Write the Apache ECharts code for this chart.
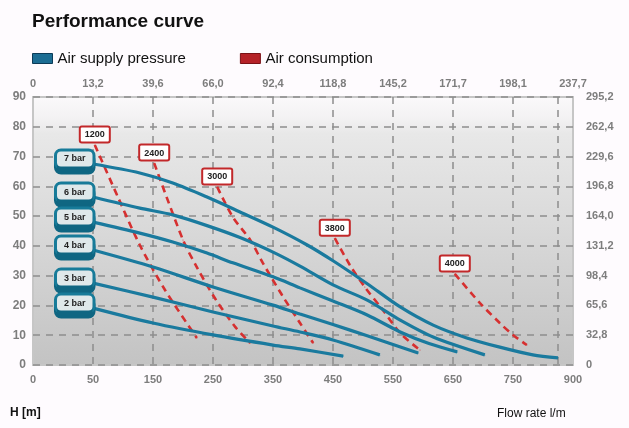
<!DOCTYPE html>
<html><head><meta charset="utf-8">
<script src="https://cdn.jsdelivr.net/npm/echarts@6/dist/echarts.min.js"></script>
<style>html,body{margin:0;padding:0;background:#fefbfe}#c{width:629px;height:428px}</style>
</head><body><div id="c"></div>
<script>
// ---- tick labels ----
const xLabelPos = [-50, 50, 150, 250, 350, 450, 550, 650, 750, 850];
const bottomLabels = ["0", "50", "150", "250", "350", "450", "550", "650", "750", "900"];
const topLabels = ["0", "13,2", "39,6", "66,0", "92,4", "118,8", "145,2", "171,7", "198,1", "237,7"];
const xGridPos = [50, 150, 250, 350, 450, 550, 650, 750, 825];
const rightLabels = ["0", "32,8", "65,6", "98,4", "131,2", "164,0", "196,8", "229,6", "262,4", "295,2"];

// ---- air supply pressure curves (flow l/m, head m) ----
const pressureNames = ["7 bar", "6 bar", "5 bar", "4 bar", "3 bar", "2 bar"];
const bar7Flow = [50, 128, 183, 240, 295, 350, 407, 450, 507, 562, 617, 673, 728, 783, 825];
const bar7H    = [67.5, 64.5, 61.1, 56.4, 51.4, 46.3, 40.3, 35.0, 27.3, 19.5, 13.4, 9.1, 6.0, 3.4, 2.4];
const bar6Flow = [50, 128, 183, 240, 295, 350, 395, 450, 507, 562, 617, 703];
const bar6H    = [56.4, 52.7, 50.4, 46.8, 42.8, 37.9, 33.2, 26.9, 21.8, 15.1, 9.4, 3.4];
const bar5Flow = [50, 128, 183, 240, 283, 350, 395, 450, 507, 562, 610, 657];
const bar5H    = [48.0, 44.3, 41.3, 37.6, 34.3, 29.6, 25.9, 21.5, 16.8, 11.1, 7.2, 4.4];
const bar4Flow = [50, 150, 250, 350, 395, 450, 507, 592];
const bar4H    = [38.6, 32.9, 26.2, 20.1, 17.1, 13.6, 9.8, 4.0];
const bar3Flow = [50, 150, 250, 350, 395, 450, 528];
const bar3H    = [27.5, 22.8, 17.8, 13.1, 11.1, 8.4, 3.4];
const bar2Flow = [50, 150, 250, 350, 395, 467];
const bar2H    = [19.1, 14.1, 10.1, 6.7, 5.4, 3.0];

// ---- air consumption lines ----
const consNames = ["1200", "2400", "3000", "3800", "4000"];
const c1200Flow = [53, 90, 128, 170, 223];
const c1200H    = [73.9, 57.1, 40.3, 25.2, 9.1];
const c2400Flow = [152, 200, 223, 253, 287, 312];
const c2400H    = [67.8, 42.0, 32.9, 22.5, 12.8, 7.4];
const c3000Flow = [257, 283, 312, 333, 365, 395, 417];
const c3000H    = [59.8, 49.7, 42.0, 34.3, 23.5, 14.1, 7.4];
const c3800Flow = [453, 478, 503, 533, 562, 595];
const c3800H    = [42.6, 33.6, 26.2, 18.5, 10.7, 5.0];
const c4000Flow = [653, 695, 728, 750, 773];
const c4000H    = [30.6, 20.8, 14.1, 10.1, 6.7];

const pressureSets = [[bar7Flow, bar7H], [bar6Flow, bar6H], [bar5Flow, bar5H], [bar4Flow, bar4H], [bar3Flow, bar3H], [bar2Flow, bar2H]];
const consSets = [[c1200Flow, c1200H], [c2400Flow, c2400H], [c3000Flow, c3000H], [c3800Flow, c3800H], [c4000Flow, c4000H]];

const FONT = 'Liberation Sans, Arial, sans-serif';
const BLUE = '#1a7a9e';
const RED = '#d63030';

function pts(xs, ys) {
  return xs.map((x, i) => i === 0 ? {value: [x, ys[i]], label: {show: true}} : [x, ys[i]]);
}

const series = [];
pressureSets.forEach((s, k) => {
  series.push({
    type: 'line', name: 'Air supply pressure', smooth: 0.3,
    symbol: 'circle', symbolSize: 1, showSymbol: true,
    itemStyle: {color: BLUE}, lineStyle: {color: BLUE, width: 3.2},
    z: 3,
    label: {
      show: false, formatter: pressureNames[k], position: 'left', distance: 0, offset: [0, -5],
      color: '#222', fontSize: 9, fontWeight: 'bold', fontFamily: FONT,
      backgroundColor: '#dfe8ea', borderColor: '#177b99', borderWidth: 3, borderRadius: 4,
      padding: [3, 7, 3, 7], shadowColor: '#0f6682', shadowOffsetY: 5, shadowBlur: 0
    },
    data: pts(s[0], s[1])
  });
});
consSets.forEach((s, k) => {
  series.push({
    type: 'line', name: 'Air consumption', smooth: 0.3,
    symbol: 'circle', symbolSize: 1, showSymbol: true,
    itemStyle: {color: RED}, lineStyle: {color: RED, width: 2.6, type: [7, 5]},
    z: 2,
    label: {
      show: false, formatter: consNames[k], position: 'top', distance: 3,
      color: '#222', fontSize: 9, fontWeight: 'bold', fontFamily: FONT,
      backgroundColor: '#ffffff', borderColor: '#c2282a', borderWidth: 2, borderRadius: 1,
      padding: [3, 4, 2, 4]
    },
    data: pts(s[0], s[1])
  });
});

const gridLine = {show: true, lineStyle: {color: '#8d8d8d', width: 1.5, type: [7, 6]}};
const axLabel = {color: '#7d7d7d', fontSize: 11, fontWeight: 'bold', fontFamily: FONT};

const chart = echarts.init(document.getElementById('c'));
chart.setOption({
  animation: false,
  backgroundColor: '#fefbfe',
  title: {text: 'Performance curve', left: 27, top: 7,
    textStyle: {fontSize: 19, fontWeight: 'bold', color: '#111', fontFamily: FONT}},
  legend: {
    left: 27, top: 46, itemWidth: 20, itemHeight: 10, itemGap: 54,
    textStyle: {fontSize: 15, color: '#111', fontFamily: FONT},
    data: [
      {name: 'Air supply pressure', icon: 'rect', itemStyle: {color: '#1c6d93', borderColor: '#0c3b57', borderWidth: 1}},
      {name: 'Air consumption', icon: 'rect', itemStyle: {color: '#b52228', borderColor: '#7a1216', borderWidth: 1}}
    ]
  },
  grid: {
    left: 33, right: 56, top: 97, bottom: 63, show: true,
    backgroundColor: new echarts.graphic.LinearGradient(0, 0, 0, 1, [
      {offset: 0, color: '#fbf9fb'}, {offset: 0.08, color: '#f3f2f3'},
      {offset: 0.14, color: '#e8e8e8'}, {offset: 1, color: '#c3c3c3'}
    ]),
    borderColor: '#c6c6c6', borderWidth: 2
  },
  xAxis: [
    {
      type: 'value', min: -50, max: 850, position: 'bottom',
      axisLine: {show: false}, axisTick: {show: false, customValues: xGridPos},
      axisLabel: Object.assign({}, axLabel, {customValues: xLabelPos, margin: 9,
        formatter: v => bottomLabels[xLabelPos.findIndex(p => Math.abs(p - v) < 1e-6)]}),
      splitLine: gridLine
    },
    {
      type: 'value', min: -50, max: 850, position: 'top',
      axisLine: {show: false}, axisTick: {show: false},
      axisLabel: Object.assign({}, axLabel, {customValues: xLabelPos, margin: 8,
        formatter: v => topLabels[xLabelPos.findIndex(p => Math.abs(p - v) < 1e-6)]}),
      splitLine: {show: false}
    }
  ],
  yAxis: [
    {
      type: 'value', min: 0, max: 90, interval: 10, position: 'left',
      axisLine: {show: false}, axisTick: {show: false},
      axisLabel: Object.assign({}, axLabel, {margin: 7, fontSize: 12}),
      splitLine: gridLine
    },
    {
      type: 'value', min: 0, max: 295.2, interval: 32.8, position: 'right',
      axisLine: {show: false}, axisTick: {show: false},
      axisLabel: Object.assign({}, axLabel, {margin: 13, formatter: (v, i) => rightLabels[i]}),
      splitLine: {show: false}
    }
  ],
  graphic: [
    {type: 'text', left: 10, top: 407, style: {text: 'H [m]', fontSize: 12, fontWeight: 'bold', fill: '#111', fontFamily: FONT}},
    {type: 'text', left: 497, top: 408, style: {text: 'Flow rate l/m', fontSize: 12, fill: '#111', fontFamily: FONT}}
  ],
  series: series
});
</script></body></html>
